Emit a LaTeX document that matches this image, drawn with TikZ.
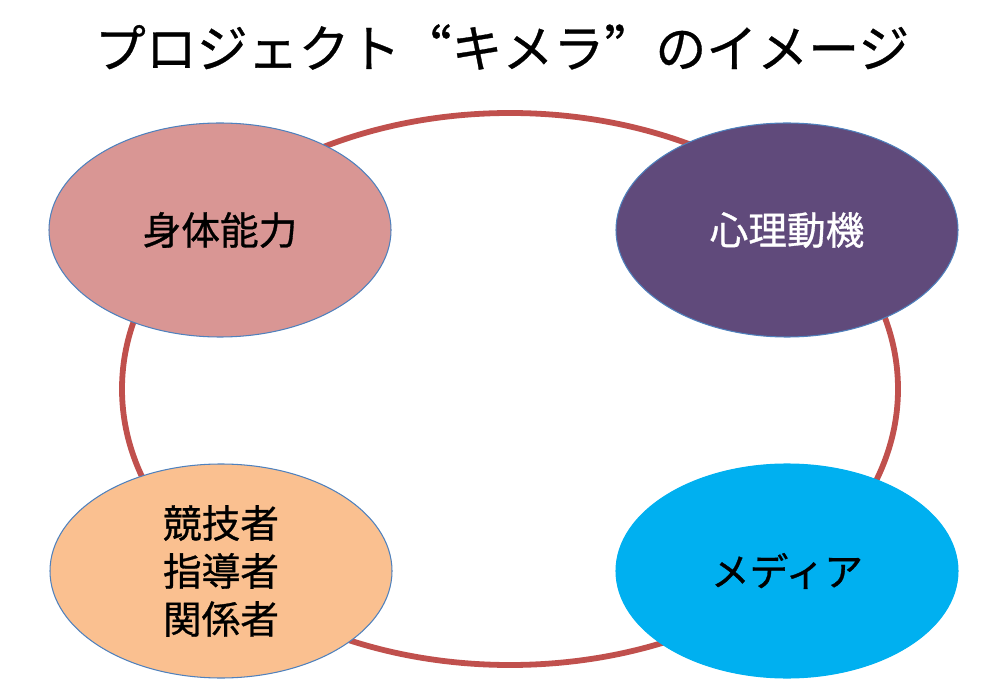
\documentclass[tikz,border=0pt]{standalone}
\usepackage{fontspec}
\newfontfamily\jpfont[FakeBold=0.8]{Noto Sans CJK JP}
\newfontfamily\jptitle[FakeBold=0.6,RawFeature=+fwid]{Noto Sans CJK JP}
\usepackage{tikz}
\usetikzlibrary{shapes}
\usepackage{xcolor}
\definecolor{ringred}{HTML}{C0504D}
\definecolor{rimblue}{HTML}{4F81BD}
\definecolor{bodypink}{HTML}{D99694}
\definecolor{mindpurple}{HTML}{604A7B}
\definecolor{peoplepeach}{HTML}{FAC090}
\definecolor{mediacyan}{HTML}{00B0F0}
\tikzstyle{bubble}=[ellipse,draw=rimblue,line width=0.6pt,minimum width=6.84cm,minimum height=4.28cm,inner sep=0pt,align=center,font=\jpfont\fontsize{22}{27.3}\selectfont]
\tikzstyle{ring}=[ellipse,draw=ringred,line width=3.3pt,minimum width=15.52cm,minimum height=11.04cm,inner sep=0pt]

\begin{document}
\begin{tikzpicture}
		\useasboundingbox (0,0) rectangle (20,13.82);
		\node[font=\jptitle\fontsize{29}{34}\selectfont] (title) at (10.04,12.88) {プロジェクト“キメラ”のイメージ};
		\node[ring] (cycle) at (10.2,6.04) {};
		\node[bubble,fill=bodypink] (body) at (4.4,9.22) {身体能力};
		\node[bubble,fill=mindpurple,text=white] (mind) at (15.74,9.22) {心理動機};
		\node[bubble,fill=peoplepeach] (people) at (4.42,2.4) {競技者\\指導者\\関係者};
		\node[bubble,fill=mediacyan,draw=mediacyan] (media) at (15.74,2.4) {メディア};
	\end{tikzpicture}
\end{document}
